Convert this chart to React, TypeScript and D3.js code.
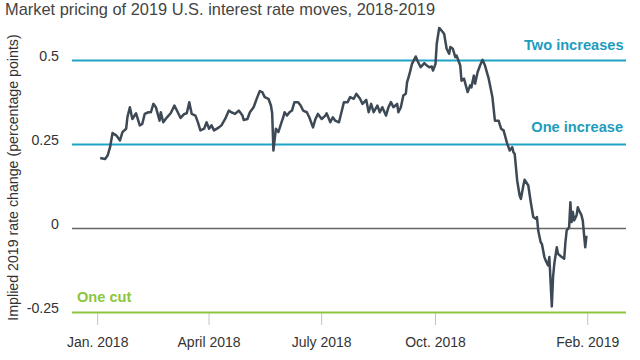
import React from "react";
import * as d3 from "d3";

const title = "Market pricing of 2019 U.S. interest rate moves, 2018-2019";
const yAxisTitle = "Implied 2019 rate change (percentage points)";

const dates: string[] = [
  "2018-01-03","2018-01-07","2018-01-09","2018-01-11","2018-01-13","2018-01-16","2018-01-17","2018-01-19","2018-01-21","2018-01-24",
  "2018-01-25","2018-01-27","2018-01-29","2018-02-01","2018-02-02","2018-02-04","2018-02-06","2018-02-08","2018-02-11","2018-02-13",
  "2018-02-15","2018-02-17","2018-02-20","2018-02-21","2018-02-23","2018-02-26","2018-03-01","2018-03-04","2018-03-06","2018-03-09",
  "2018-03-12","2018-03-14","2018-03-16","2018-03-18","2018-03-21","2018-03-23","2018-03-25","2018-03-28","2018-03-30","2018-04-01",
  "2018-04-03","2018-04-05","2018-04-09","2018-04-11","2018-04-14","2018-04-17","2018-04-19","2018-04-22","2018-04-25","2018-04-28",
  "2018-04-29","2018-05-02","2018-05-04","2018-05-07","2018-05-10","2018-05-12","2018-05-14","2018-05-16","2018-05-19","2018-05-21",
  "2018-05-22","2018-05-23","2018-05-25","2018-05-27","2018-05-30","2018-05-31","2018-06-01","2018-06-03","2018-06-05","2018-06-07",
  "2018-06-09","2018-06-12","2018-06-14","2018-06-16","2018-06-19","2018-06-21","2018-06-24","2018-06-26","2018-06-28","2018-07-01",
  "2018-07-04","2018-07-05","2018-07-08","2018-07-10","2018-07-12","2018-07-15","2018-07-19","2018-07-22","2018-07-24","2018-07-27",
  "2018-07-29","2018-08-01","2018-08-03","2018-08-06","2018-08-08","2018-08-10","2018-08-12","2018-08-15","2018-08-17","2018-08-19",
  "2018-08-22","2018-08-24","2018-08-26","2018-08-28","2018-08-31","2018-09-01","2018-09-03","2018-09-05","2018-09-07","2018-09-08",
  "2018-09-10","2018-09-12","2018-09-15","2018-09-17","2018-09-19","2018-09-22","2018-09-24","2018-09-26","2018-09-28","2018-09-29",
  "2018-10-01","2018-10-02","2018-10-04","2018-10-07","2018-10-08","2018-10-10","2018-10-12","2018-10-13","2018-10-15","2018-10-17",
  "2018-10-18","2018-10-21","2018-10-22","2018-10-24","2018-10-27","2018-10-29","2018-10-30","2018-11-01","2018-11-02","2018-11-04",
  "2018-11-06","2018-11-08","2018-11-10","2018-11-13","2018-11-16","2018-11-18","2018-11-21","2018-11-23","2018-11-25","2018-11-28",
  "2018-11-30","2018-12-02","2018-12-03","2018-12-04","2018-12-06","2018-12-08","2018-12-09","2018-12-11","2018-12-12","2018-12-15",
  "2018-12-17","2018-12-19","2018-12-21","2018-12-22","2018-12-23","2018-12-25","2018-12-26","2018-12-28","2018-12-29","2018-12-31",
  "2019-01-01","2019-01-03","2019-01-04","2019-01-05","2019-01-07","2019-01-08","2019-01-11","2019-01-13","2019-01-14","2019-01-15",
  "2019-01-17","2019-01-18","2019-01-19","2019-01-20","2019-01-21","2019-01-23","2019-01-24","2019-01-25","2019-01-27","2019-01-28",
  "2019-01-30","2019-01-31",
];

const values: number[] = [
  0.21,0.207,0.217,0.242,0.284,0.277,0.272,0.262,0.287,0.297,
  0.331,0.361,0.326,0.343,0.331,0.307,0.311,0.341,0.346,0.346,
  0.371,0.361,0.321,0.346,0.316,0.331,0.343,0.366,0.351,0.329,
  0.341,0.343,0.376,0.341,0.336,0.316,0.292,0.297,0.316,0.297,
  0.307,0.292,0.301,0.307,0.326,0.351,0.346,0.341,0.351,0.336,
  0.323,0.326,0.346,0.361,0.391,0.409,0.406,0.391,0.386,0.366,
  0.343,0.232,0.297,0.287,0.321,0.331,0.346,0.336,0.346,0.351,
  0.376,0.376,0.366,0.351,0.346,0.331,0.301,0.326,0.341,0.326,
  0.336,0.343,0.316,0.331,0.321,0.316,0.376,0.376,0.391,0.386,
  0.401,0.386,0.371,0.383,0.346,0.371,0.346,0.366,0.346,0.361,
  0.336,0.361,0.376,0.361,0.371,0.346,0.361,0.396,0.401,0.435,
  0.46,0.49,0.512,0.495,0.48,0.492,0.485,0.48,0.482,0.47,
  0.49,0.55,0.597,0.584,0.579,0.535,0.52,0.54,0.535,0.51,
  0.515,0.485,0.44,0.446,0.406,0.426,0.42,0.455,0.431,0.465,
  0.485,0.502,0.485,0.446,0.391,0.321,0.321,0.297,0.292,0.252,
  0.232,0.242,0.227,0.222,0.143,0.098,0.088,0.128,0.145,0.128,
  0.078,0.034,0.029,0.034,-0.006,-0.041,-0.046,-0.085,-0.095,-0.11,
  -0.085,-0.232,-0.145,-0.105,-0.056,-0.075,-0.085,-0.09,-0.041,-0.006,
  0.004,0.078,0.019,0.049,0.024,0.039,0.063,0.054,0.039,0.024,
  -0.056,-0.021,
];

const xTickDates = ["2018-01-01", "2018-04-01", "2018-07-01", "2018-10-01", "2019-02-01"];
const xTickLabels = ["Jan. 2018", "April 2018", "July 2018", "Oct. 2018", "Feb. 2019"];
const yTickValues = [0.5, 0.25, 0, -0.25];
const yTickLabels = ["0.5", "0.25", "0", "-0.25"];
const refValues = [0.5, 0.25, 0, -0.25];
const refLabels = ["Two increases", "One increase", "", "One cut"];

const W = 640;
const H = 360;
const parse = d3.utcParse("%Y-%m-%d");

export default function App() {
  const x = d3
    .scaleUtc()
    .domain([parse("2018-01-01")!, parse("2019-02-01")!])
    .range([97.7, 587.7]);
  const y = d3.scaleLinear().domain([-0.25, 0.5]).range([312.5, 60.5]);
  const plotLeft = 72;
  const plotRight = 626;

  const data = dates.map((d, i) => ({ date: parse(d)!, value: values[i] }));
  const line = d3
    .line<{ date: Date; value: number }>()
    .x((d) => x(d.date))
    .y((d) => y(d.value))
    .curve(d3.curveLinear);

  const font = "'Liberation Sans', Arial, sans-serif";
  const teal = "#1fa3c6";
  const tealText = "#1d9cbd";
  const green = "#8cc540";
  const refColor = (v: number) => (v > 0 ? teal : v === 0 ? "#666" : green);

  return (
    <svg
      width={W}
      height={H}
      style={{ position: "absolute", left: 0, top: 0, background: "#fff" }}
      fontFamily={font}
    >
      <text x={5} y={15} fontSize={16.4} fill="#444">
        {title}
      </text>
      <text
        transform={`translate(18, 177.5) rotate(-90)`}
        textAnchor="middle"
        fontSize={14.2}
        fill="#333"
      >
        {yAxisTitle}
      </text>
      {yTickValues.map((v, i) => (
        <text
          key={"yt" + i}
          x={59}
          y={y(v) - 4.5}
          dy="0.35em"
          textAnchor="end"
          fontSize={14.2}
          fill="#333"
        >
          {yTickLabels[i]}
        </text>
      ))}
      {xTickDates.map((d, i) => {
        const px = x(parse(d)!);
        return (
          <g key={"xt" + i}>
            <line x1={px} x2={px} y1={313} y2={325} stroke="#c4c4c4" strokeWidth={1} />
            <text x={px} y={346.5} textAnchor="middle" fontSize={14} fill="#333">
              {xTickLabels[i]}
            </text>
          </g>
        );
      })}
      {refValues.map((v, i) => (
        <line
          key={"rl" + i}
          x1={plotLeft}
          x2={plotRight}
          y1={y(v)}
          y2={y(v)}
          stroke={refColor(v)}
          strokeWidth={v === 0 ? 1.5 : 2}
        />
      ))}
      <path d={line(data) || ""} fill="none" stroke="#3d4955" strokeWidth={2.5} strokeLinejoin="round" />
      <text x={623.5} y={y(refValues[0]) - 10.5} textAnchor="end" fontSize={14.6} fontWeight="bold" fill={tealText}>
        {refLabels[0]}
      </text>
      <text x={623} y={y(refValues[1]) - 12.5} textAnchor="end" fontSize={14.6} fontWeight="bold" fill={tealText}>
        {refLabels[1]}
      </text>
      <text x={77} y={y(refValues[3]) - 11} fontSize={14.6} fontWeight="bold" fill={green}>
        {refLabels[3]}
      </text>
    </svg>
  );
}
